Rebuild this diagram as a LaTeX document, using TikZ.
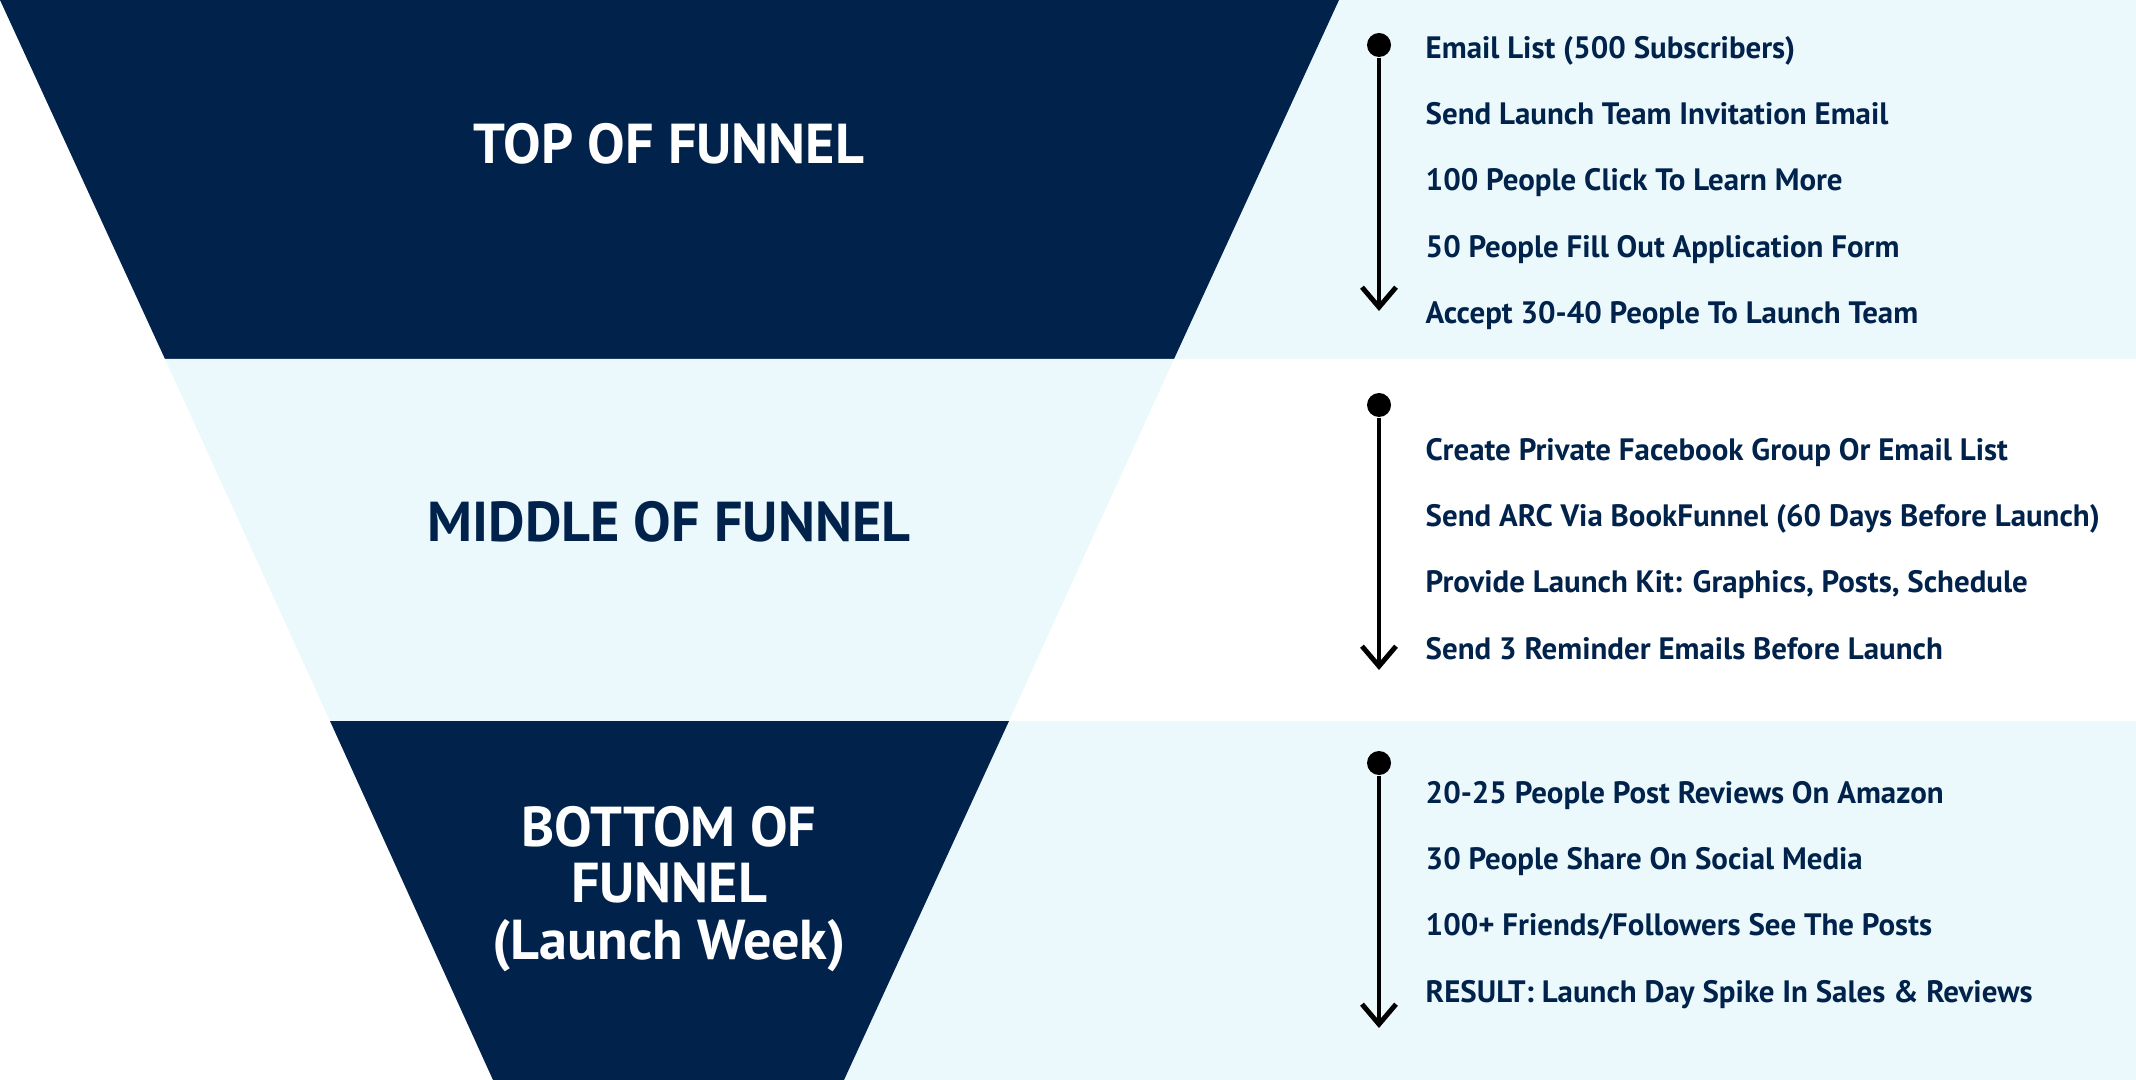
\documentclass[tikz,border=0pt]{standalone}
\usepackage{fontspec}
\setmainfont{PT Sans}
\usepackage{tikz}
\usetikzlibrary{positioning,arrows.meta}
\definecolor{navy}{HTML}{01234B}
\definecolor{ice}{HTML}{EBF9FD}

\begin{document}
\begin{tikzpicture}[node distance=0.663cm, on grid,
                    stage/.style={font=\fontsize{16}{16}\selectfont\bfseries, align=center},
                    item/.style={font=\fontsize{8.8}{10}\selectfont\bfseries, text=navy,
                                 inner sep=0pt, text height=0.7em, text depth=0pt},
                    dot/.style={circle, fill=black, inner sep=0pt, minimum size=2.4mm},
                    flow/.style={line width=1.4pt, -{Straight Barb[length=2mm,width=3.4mm]}}]

  \useasboundingbox (0,0) rectangle (21.36,-10.8);

  \fill[ice] (11,0) rectangle (21.36,-3.59);
  \fill[ice] (8,-7.21) rectangle (21.36,-10.8);
  \fill[navy] (0,0) -- (13.39,0) -- (11.74,-3.59) -- (1.65,-3.59) -- cycle;
  \fill[ice] (1.65,-3.59) -- (11.74,-3.59) -- (10.09,-7.21) -- (3.30,-7.21) -- cycle;
  \fill[navy] (3.30,-7.21) -- (10.09,-7.21) -- (8.44,-10.8) -- (4.93,-10.8) -- cycle;

  \node[stage, text=white] (top) at (6.69,-1.44) {TOP OF FUNNEL};
  \node[stage, text=navy] (mid) at (6.69,-5.22) {MIDDLE OF FUNNEL};
  \node[stage, text=white] (bot) at (6.69,-8.89) {BOTTOM OF\\FUNNEL\\(Launch Week)};

  \node[dot] (d1) at (13.79,-0.45) {};
  \coordinate (e1) at (13.79,-3.11);
  \node[item, anchor=west] (t1) at (14.25,-0.46) {Email List (500 Subscribers)};
  \node[item, below=of t1.west, anchor=west] (t2) {Send Launch Team Invitation Email};
  \node[item, below=of t2.west, anchor=west] (t3) {100 People Click To Learn More};
  \node[item, below=of t3.west, anchor=west] (t4) {50 People Fill Out Application Form};
  \node[item, below=of t4.west, anchor=west] (t5) {Accept 30-40 People To Launch Team};

  \node[dot] (d2) at (13.79,-4.05) {};
  \coordinate (e2) at (13.79,-6.70);
  \node[item, anchor=west] (m1) at (14.25,-4.48) {Create Private Facebook Group Or Email List};
  \node[item, below=of m1.west, anchor=west] (m2) {Send ARC Via BookFunnel (60 Days Before Launch)};
  \node[item, below=of m2.west, anchor=west] (m3) {Provide Launch Kit: Graphics, Posts, Schedule};
  \node[item, below=of m3.west, anchor=west] (m4) {Send 3 Reminder Emails Before Launch};

  \node[dot] (d3) at (13.79,-7.63) {};
  \coordinate (e3) at (13.79,-10.28);
  \node[item, anchor=west] (b1) at (14.25,-7.91) {20-25 People Post Reviews On Amazon};
  \node[item, below=of b1.west, anchor=west] (b2) {30 People Share On Social Media};
  \node[item, below=of b2.west, anchor=west] (b3) {100+ Friends/Followers See The Posts};
  \node[item, below=of b3.west, anchor=west] (b4) {RESULT: Launch Day Spike In Sales \& Reviews};

  \draw[flow] (d1) -- (e1);
  \draw[flow] (d2) -- (e2);
  \draw[flow] (d3) -- (e3);
\end{tikzpicture}
\end{document}
